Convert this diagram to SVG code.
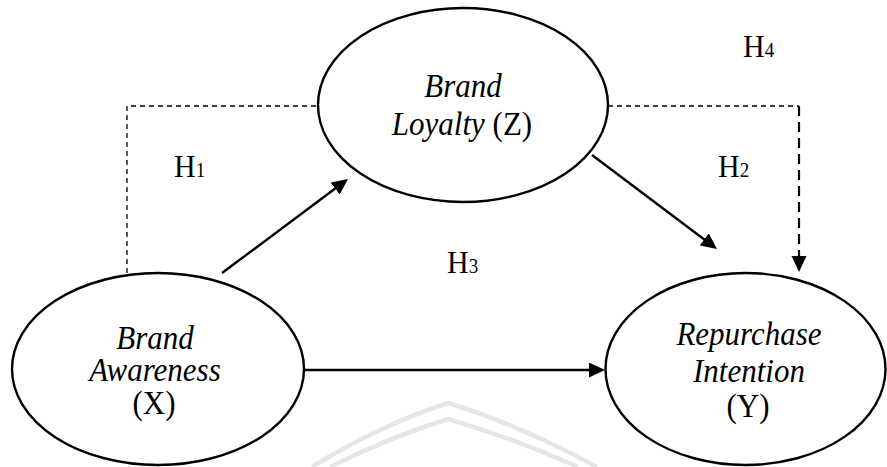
<svg xmlns="http://www.w3.org/2000/svg" width="887" height="467" viewBox="0 0 887 467">
  <style>
    .node { fill: none; stroke: #000; stroke-width: 2.4; }
    text { font-family: "Liberation Serif", "Times New Roman", serif; fill: #000; }
    .lbl { font-size: 31px; text-anchor: middle; }
    .it { font-style: italic; }
    .h { font-size: 30px; }
    .sub { font-size: 19px; }
    .solid { fill: none; stroke: #000; stroke-width: 2.4; }
    .thin-dash { fill: none; stroke: #000; stroke-width: 1.3; stroke-dasharray: 5 4; }
    .thick-dash { fill: none; stroke: #000; stroke-width: 2.2; stroke-dasharray: 10 6; }
    .mark { fill: none; stroke: #e6e6e6; stroke-width: 4.5; }
  </style>
  <defs>
    <marker id="arrow" markerUnits="userSpaceOnUse" markerWidth="18" markerHeight="16" refX="13" refY="7.5" orient="auto">
      <path d="M0,0 L16,7.5 L0,15 z" fill="#000"/>
    </marker>
  </defs>
  <rect width="887" height="467" fill="#fff"/>

  <!-- faint background emblem -->
  <g id="emblem">
    <path class="mark" d="M312,467 Q380,425 448,403 Q520,425 597,467"/>
    <path class="mark" d="M330,467 Q390,437 448,419 Q510,437 578,467"/>
  </g>

  <g id="connectors">
    <!-- H1 path: X to Z -->
    <line class="solid" x1="222" y1="273" x2="345.6" y2="180.8" marker-end="url(#arrow)"/>
    <!-- H2 path: Z to Y -->
    <line class="solid" x1="592" y1="155" x2="714.6" y2="247.2" marker-end="url(#arrow)"/>
    <!-- H3 path: X to Y -->
    <line class="solid" x1="304" y1="370" x2="602" y2="370" marker-end="url(#arrow)"/>
    <!-- H4 mediated path (dashed) -->
    <path class="thin-dash" d="M127,273 V106 H318"/>
    <path class="thin-dash" d="M608,106 H799"/>
    <line class="thick-dash" x1="799" y1="106" x2="799" y2="269" marker-end="url(#arrow)"/>
  </g>

  <g id="node-z">
    <ellipse class="node" cx="463" cy="105" rx="145" ry="97"/>
    <text class="lbl it" transform="translate(463,97) scale(1,1.07)">Brand</text>
    <text class="lbl" transform="translate(462,135) scale(1,1.07)"><tspan class="it">Loyalty</tspan> (Z)</text>
  </g>

  <g id="node-x">
    <ellipse class="node" cx="158" cy="369" rx="146" ry="96"/>
    <text class="lbl it" transform="translate(155,349) scale(1,1.07)">Brand</text>
    <text class="lbl it" transform="translate(155,381) scale(1,1.07)">Awareness</text>
    <text class="lbl" transform="translate(154,414) scale(1,1.07)">(X)</text>
  </g>

  <g id="node-y">
    <ellipse class="node" cx="745.5" cy="369" rx="140" ry="96"/>
    <text class="lbl it" transform="translate(749,345) scale(1,1.07)">Repurchase</text>
    <text class="lbl it" transform="translate(749,382) scale(1,1.07)">Intention</text>
    <text class="lbl" transform="translate(748,417) scale(1,1.07)">(Y)</text>
  </g>

  <g id="labels">
    <text class="h" transform="translate(174,177) scale(1,1.07)">H<tspan class="sub">1</tspan></text>
    <text class="h" transform="translate(718,177) scale(1,1.07)">H<tspan class="sub">2</tspan></text>
    <text class="h" transform="translate(447,273) scale(1,1.07)">H<tspan class="sub">3</tspan></text>
    <text class="h" transform="translate(743,57) scale(1,1.07)">H<tspan class="sub">4</tspan></text>
  </g>
</svg>
